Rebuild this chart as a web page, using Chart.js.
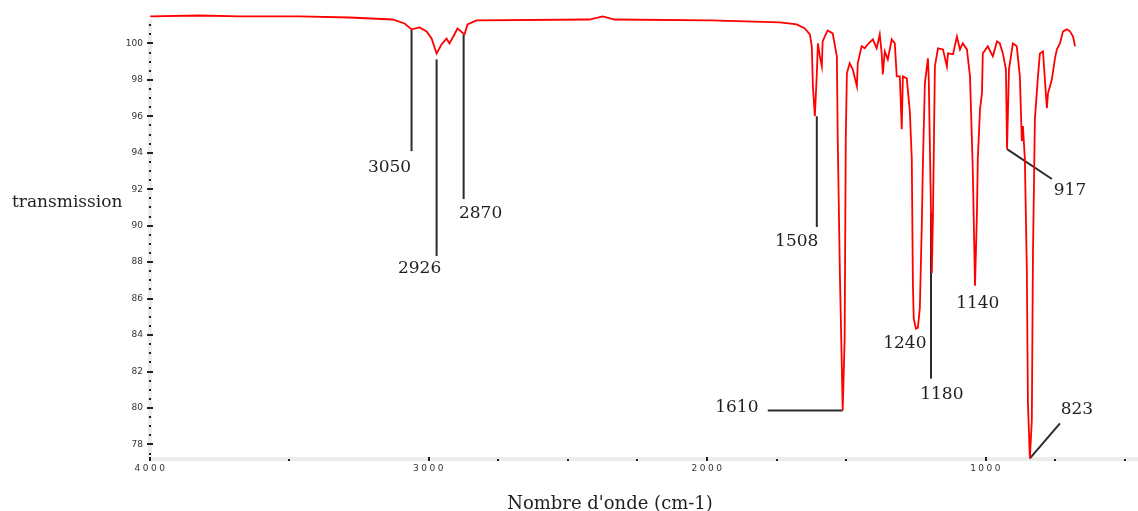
<!DOCTYPE html>
<html>
<head>
<meta charset="utf-8">
<script src="https://cdn.jsdelivr.net/npm/chart.js@4.4.1/dist/chart.umd.min.js"></script>
<style>
  html, body { margin: 0; padding: 0; background: #fff; }
  #wrap { width: 1138px; height: 511px; position: relative; }
</style>
</head>
<body>
<div id="wrap"><canvas id="ir"></canvas></div>
<script>
// spectre IR : nombre d'onde (cm-1) / transmission (%)
const wavenumber = [3999, 3823, 3679, 3464, 3284, 3129, 3086, 3061, 3032, 3007, 2989, 2971, 2953, 2935, 2925, 2907, 2896, 2871, 2860, 2828,
  2422, 2375, 2332, 1986, 1739, 1678, 1649, 1631, 1624, 1620, 1613, 1606, 1602, 1595, 1588, 1585, 1577, 1567, 1549, 1534,
  1531, 1523, 1516, 1513, 1506, 1502, 1498, 1488, 1477, 1462, 1459, 1445, 1434, 1423, 1405, 1391, 1380, 1373, 1369, 1362,
  1351, 1337, 1326, 1319, 1308, 1301, 1297, 1283, 1272, 1265, 1261, 1258, 1250, 1243, 1236, 1229, 1225, 1218, 1207, 1204,
  1196, 1193, 1189, 1182, 1171, 1153, 1139, 1135, 1117, 1103, 1092, 1082, 1067, 1056, 1046, 1038, 1031, 1028, 1020, 1013,
  1010, 992, 974, 959, 949, 938, 927, 923, 916, 902, 888, 877, 870, 866, 859, 852, 848, 841, 834, 830,
  823, 812, 805, 794, 780, 776, 762, 751, 744, 733, 722, 708, 697, 686, 679];
const transmission = [101.48, 101.53, 101.48, 101.48, 101.42, 101.31, 101.09, 100.77, 100.88, 100.66, 100.27, 99.45, 99.95, 100.27, 100.0, 100.49, 100.82, 100.49, 101.04, 101.26,
  101.31, 101.48, 101.31, 101.26, 101.15, 101.04, 100.82, 100.49, 99.84, 97.65, 96.0, 98.3, 100.0, 99.29, 98.74, 100.11, 100.38, 100.71, 100.55, 99.29,
  94.91, 87.25, 82.16, 79.86, 83.8, 94.75, 98.36, 98.91, 98.58, 97.65, 98.91, 99.84, 99.73, 99.95, 100.22, 99.73, 100.49, 99.45, 98.3, 99.56,
  99.12, 100.22, 100.0, 98.19, 98.19, 95.29, 98.19, 98.08, 96.28, 93.65, 86.86, 84.89, 84.35, 84.4, 85.5, 90.09, 93.43, 97.81, 99.18, 98.03,
  90.7, 87.41, 90.53, 98.74, 99.73, 99.67, 98.74, 99.45, 99.4, 100.38, 99.67, 100.0, 99.67, 98.19, 93.1, 86.7, 90.7, 93.65, 96.39, 97.26,
  99.45, 99.84, 99.29, 100.11, 100.0, 99.45, 98.58, 94.2, 98.58, 100.0, 99.84, 98.19, 94.64, 95.46, 93.65, 87.63, 80.24, 77.23, 79.31, 88.34,
  95.84, 98.19, 99.45, 99.56, 96.44, 97.26, 98.03, 99.18, 99.67, 100.0, 100.66, 100.77, 100.66, 100.38, 99.84];

const xMajorTicks = [4000, 3000, 2000, 1000];
const xMinorTicks = [3500, 2750, 2500, 2250, 1750, 1500, 750, 500];
const yTickLabels = [78, 80, 82, 84, 86, 88, 90, 92, 94, 96, 98, 100];

// pics annotés : texte, trait (de -> à) et position du texte, en unités des axes
const peakLabels = ['3050', '2926', '2870', '1508', '1610', '1240', '1180', '1140', '917', '823'];
const callouts = [
  { from: [3061, 100.77], to: [3061, 94.09], at: [3140, 93.21] },
  { from: [2971, 99.12], to: [2971, 88.34], at: [3032, 87.63] },
  { from: [2874, 100.49], to: [2874, 91.46], at: [2813, 90.64] },
  { from: [1606, 96.0], to: [1606, 89.93], at: [1678, 89.11] },
  { from: [1513, 79.86], to: [1782, 79.86], at: [1893, 80.02] },
  { from: null, to: null, at: [1290, 83.53] },
  { from: [1196, 90.7], to: [1196, 81.61], at: [1157, 80.73] },
  { from: null, to: null, at: [1028, 85.72] },
  { from: [923, 94.2], to: [762, 92.56], at: [697, 91.9] },
  { from: [841, 77.23], to: [733, 79.15], at: [672, 79.91] },
];

const SERIF = "'DejaVu Serif', serif";
const TEXT = '#1f1f24';

const decorPlugin = {
  id: 'decor',
  beforeDatasetsDraw(chart) {
    const { ctx, chartArea: a, scales: { x, y } } = chart;
    ctx.save();
    // bandes grises des axes
    ctx.fillStyle = '#ececec';
    ctx.fillRect(a.left, a.bottom - 2, chart.width - a.left, 4);
    ctx.fillRect(a.left - 2, y.getPixelForValue(101.3), 4, a.bottom - y.getPixelForValue(101.3));
    // points de l'axe y
    ctx.fillStyle = '#222';
    for (let v = 77.5; v <= 101.01; v += 0.5) {
      const py = Math.round(y.getPixelForValue(v));
      if (yTickLabels.includes(v)) ctx.fillRect(a.left - 3, py - 1, 6, 2);
      else ctx.fillRect(a.left - 1, py - 1, 2, 2);
    }
    ctx.fillRect(a.left - 1, a.bottom - 1, 2, 2);
    // points de l'axe x
    xMinorTicks.forEach(v => {
      const px = Math.round(x.getPixelForValue(v));
      ctx.fillRect(px - 1, a.bottom, 2, 2);
    });
    xMajorTicks.forEach(v => {
      const px = Math.round(x.getPixelForValue(v));
      ctx.fillRect(px - 1, a.bottom - 2, 2, 4);
    });
    // étiquettes de l'axe x
    ctx.font = "9px 'DejaVu Sans', sans-serif";
    ctx.letterSpacing = '2.5px';
    ctx.fillStyle = '#333';
    ctx.textAlign = 'center';
    ctx.textBaseline = 'middle';
    xMajorTicks.forEach(v => ctx.fillText(String(v), x.getPixelForValue(v) + 1, a.bottom + 10));
    ctx.letterSpacing = '0px';
    // traits des annotations
    ctx.strokeStyle = '#2b2b2b';
    ctx.lineWidth = 2;
    callouts.forEach(c => {
      if (!c.from) return;
      ctx.beginPath();
      ctx.moveTo(x.getPixelForValue(c.from[0]), y.getPixelForValue(c.from[1]));
      ctx.lineTo(x.getPixelForValue(c.to[0]), y.getPixelForValue(c.to[1]));
      ctx.stroke();
    });
    ctx.restore();
  },
  afterDatasetsDraw(chart) {
    const { ctx, scales: { x, y } } = chart;
    ctx.save();
    ctx.fillStyle = TEXT;
    ctx.textAlign = 'center';
    ctx.textBaseline = 'middle';
    ctx.font = `17px ${SERIF}`;
    callouts.forEach((c, i) => {
      ctx.fillText(peakLabels[i], x.getPixelForValue(c.at[0]), y.getPixelForValue(c.at[1]));
    });
    ctx.textAlign = 'left';
    ctx.fillText('transmission', 12, 203);
    ctx.textAlign = 'center';
    ctx.textBaseline = 'alphabetic';
    ctx.font = `18px ${SERIF}`;
    ctx.fillText("Nombre d'onde (cm-1)", 610, 509);
    ctx.restore();
  }
};

new Chart(document.getElementById('ir'), {
  type: 'line',
  data: {
    datasets: [{
      data: wavenumber.map((w, i) => ({ x: w, y: transmission[i] })),
      borderColor: '#ff0000',
      borderWidth: 1.8,
      pointRadius: 0,
      tension: 0,
      fill: false,
    }]
  },
  options: {
    responsive: true,
    maintainAspectRatio: false,
    animation: false,
    layout: { padding: { left: 0, right: 2, top: 11, bottom: 0 } },
    plugins: { legend: { display: false }, tooltip: { enabled: false } },
    scales: {
      x: {
        type: 'linear',
        reverse: true,
        min: 460,
        max: 4000,
        grid: { display: false, drawTicks: false },
        border: { display: false },
        ticks: { display: false },
        afterFit: s => { s.height = 52; },
      },
      y: {
        min: 77.2,
        max: 101.7,
        grid: { display: false, drawTicks: false },
        border: { display: false },
        afterBuildTicks: s => { s.ticks = yTickLabels.map(v => ({ value: v })); },
        ticks: {
          autoSkip: false,
          padding: 7,
          color: '#333',
          font: { family: "'DejaVu Sans', sans-serif", size: 9 },
        },
        afterFit: s => { s.width = 150; },
      }
    }
  },
  plugins: [decorPlugin]
});
</script>
</body>
</html>
